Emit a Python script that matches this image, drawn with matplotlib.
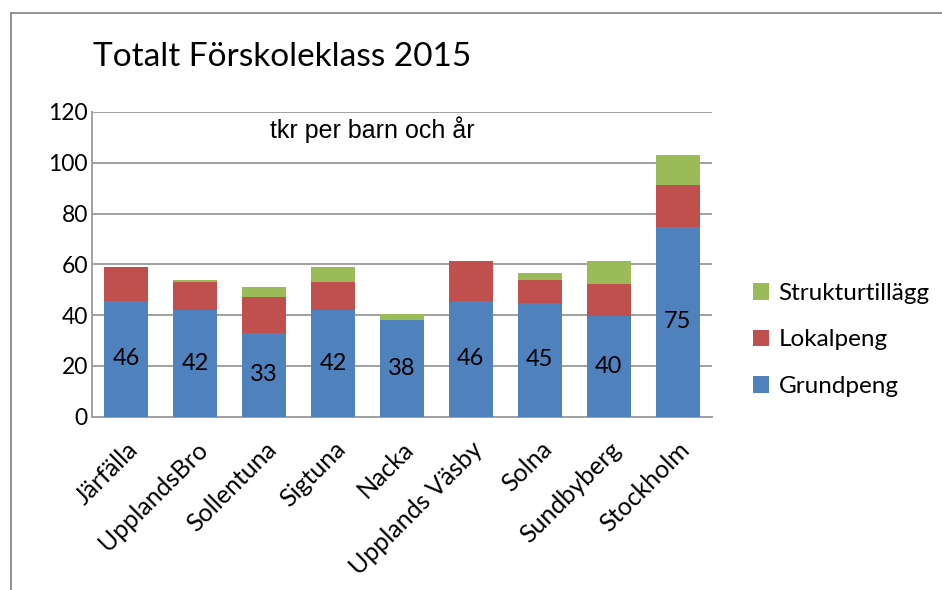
import matplotlib.pyplot as plt
import numpy as np
from matplotlib.lines import Line2D

# kommuner och belopp (tkr per barn och år)
kommuner = ["Järfälla", "UpplandsBro", "Sollentuna", "Sigtuna", "Nacka",
            "Upplands Väsby", "Solna", "Sundbyberg", "Stockholm"]
grundpeng = [45.7, 41.9, 33.0, 42.1, 38.2, 45.6, 44.7, 39.5, 74.8]
lokalpeng = [13.2, 11.1, 14.1, 11.1, 0.0, 15.8, 9.1, 12.9, 16.5]
struktur = [0.0, 0.8, 3.8, 5.7, 2.4, 0.0, 2.9, 8.9, 11.7]

plt.rcParams['font.family'] = ['Lato', 'DejaVu Sans']

fig = plt.figure(figsize=(9.42, 5.90), dpi=100)
ax = fig.add_axes([92 / 942, 1 - 416.7 / 590, 620 / 942, 304.7 / 590])

x = np.arange(len(kommuner))
g = np.array(grundpeng)
l = np.array(lokalpeng)
s = np.array(struktur)

b1 = ax.bar(x, g, width=0.64, color="#4F81BD", label="Grundpeng", zorder=3)
b2 = ax.bar(x, l, width=0.64, bottom=g, color="#C0504D", label="Lokalpeng", zorder=3)
b3 = ax.bar(x, s, width=0.64, bottom=g + l, color="#9BBB59", label="Strukturtillägg", zorder=3)

# värden mitt i grundpeng-staplarna
ax.bar_label(b1, labels=[f"{v:.0f}" for v in g], label_type="center", fontsize=17)

ax.set_xlim(-0.5, len(kommuner) - 0.5)
ax.set_ylim(0, 120)
ax.set_yticks(range(0, 121, 20))
ax.tick_params(axis="y", length=0, labelsize=16.5, pad=3)
ax.tick_params(axis="x", length=0, labelsize=18, pad=15)
ax.set_xticks(x)
ax.set_xticklabels(kommuner, rotation=45, ha="right", rotation_mode="anchor")
ax.grid(axis="y", color="#a0a0a0", linewidth=1.4, zorder=0)
for side in ["top", "right"]:
    ax.spines[side].set_visible(False)
for side in ["left", "bottom"]:
    ax.spines[side].set_color("#a0a0a0")
    ax.spines[side].set_linewidth(1.4)

fig.text(372 / 942, 1 - 130 / 590, "tkr per barn och år", ha="center", va="center",
         fontsize=18, family="Liberation Sans")

fig.text(93 / 942, 1 - 57 / 590, "Totalt Förskoleklass 2015", ha="left", va="center",
         fontsize=24)

handles = [b3, b2, b1]
fig.legend(handles, [h.get_label() for h in handles], loc="center left",
           bbox_to_anchor=(731 / 942, 1 - 340 / 590), frameon=False, fontsize=17.5,
           handlelength=0.65, handleheight=0.65, handletextpad=0.4, labelspacing=1.05)

# ram runt diagrammet (bara vänster och överkant syns)
fig.add_artist(Line2D([10.5 / 942, 10.5 / 942], [0, 1 - 12.5 / 590], color="#909090", lw=1.4))
fig.add_artist(Line2D([10.5 / 942, 1], [1 - 12.5 / 590, 1 - 12.5 / 590], color="#909090", lw=1.4))

fig.savefig("out.png", dpi=100)
